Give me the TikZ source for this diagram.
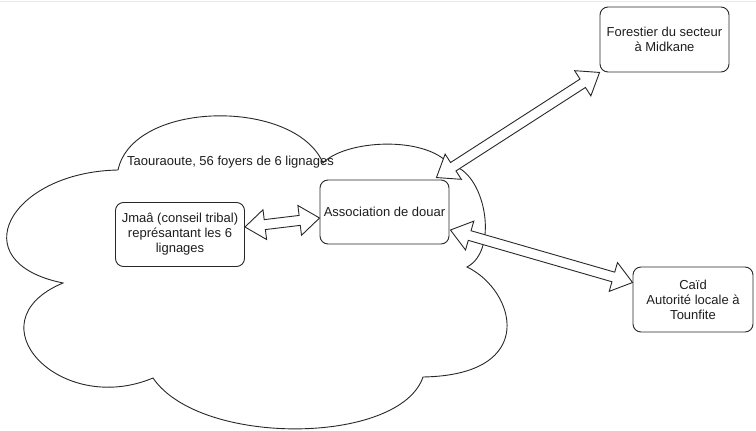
\documentclass[tikz,border=0pt]{standalone}
\usepackage{fontspec}
\setmainfont{Liberation Sans}
\usetikzlibrary{positioning, calc}

\definecolor{edgegray}{RGB}{40,40,40}
\definecolor{textgray}{RGB}{30,30,30}
\definecolor{topline}{RGB}{252,228,212}

% hollow double-headed arrow between two coordinates
\newcommand{\flexarrow}[2]{%
  \draw[flex]
    (#1)
    -- ($(#1)!20pt!(#2)!15pt!90:(#2)$)
    -- ($(#1)!20pt!(#2)!5pt!90:(#2)$)
    -- ($(#2)!20pt!(#1)!5pt!-90:(#1)$)
    -- ($(#2)!20pt!(#1)!15pt!-90:(#1)$)
    -- (#2)
    -- ($(#2)!20pt!(#1)!15pt!90:(#1)$)
    -- ($(#2)!20pt!(#1)!5pt!90:(#1)$)
    -- ($(#1)!20pt!(#2)!5pt!-90:(#2)$)
    -- ($(#1)!20pt!(#2)!15pt!-90:(#2)$)
    -- cycle;}

\begin{document}
\begin{tikzpicture}[
    x=1pt, y=1pt,
    box/.style={rectangle, draw=edgegray, line width=0.9pt, rounded corners=8pt,
                minimum width=129pt, minimum height=64pt, inner sep=2pt,
                align=center, text=textgray,
                font=\fontsize{13}{15}\selectfont},
    cloudline/.style={draw=edgegray, line width=0.9pt, fill=white},
    flex/.style={draw=edgegray, line width=0.9pt, fill=white, line join=miter},
    label/.style={text=textgray, inner sep=0pt, font=\fontsize{13}{15}\selectfont}
]
  \useasboundingbox (0,0) rectangle (756,-431);
  \draw[topline, line width=1pt] (0,-1.5) -- (756,-1.5);

  % --- Village cloud ---
  \draw[cloudline] (118,-170)
    .. controls (133,-100) and (295,-98) .. (323,-163)
    .. controls (345,-140) and (425,-135) .. (450,-165)
    .. controls (485,-170) and (500,-250) .. (467,-267)
    .. controls (515,-290) and (540,-375) .. (423,-377)
    .. controls (400,-445) and (200,-447) .. (153,-378)
    .. controls (60,-417) and (-30,-322) .. (63,-283)
    .. controls (-40,-262) and (10,-172) .. (118,-170) -- cycle;
  \node[label, anchor=west] (village) at (127,-162) {Taouraoute, 56 foyers de 6 lignages};

  % --- Actors ---
  \node[box] (jmaa) at (180,-234.5)
    {\fontsize{13}{14.5}\selectfont Jmaâ (conseil tribal)\\représantant les 6\\lignages};
  \node[box] (assoc) at (384.5,-212) {Association de douar};
  \node[box, minimum height=65pt] (forest) at (664.5,-39.5) {Forestier du secteur\\à Midkane};
  \node[box, minimum width=120pt, minimum height=65pt] (caid) at (693,-299.5)
    {Caïd\\Autorité locale à\\Tounfite};

  % --- Links ---
  \coordinate (jmaaTip) at ($(jmaa.east)+(0,7.5)$);
  \coordinate (assocW) at ($(assoc.west)+(0,-6)$);
  \coordinate (assocN) at ($(assoc.north east)+(-13,2)$);
  \coordinate (forestTip) at (forest.south west);
  \coordinate (assocE) at ($(assoc.east)+(1,-18)$);
  \coordinate (caidTip) at ($(caid.west)+(0,17)$);

  \flexarrow{jmaaTip}{assocW}
  \flexarrow{assocN}{forestTip}
  \flexarrow{assocE}{caidTip}

\end{tikzpicture}
\end{document}
